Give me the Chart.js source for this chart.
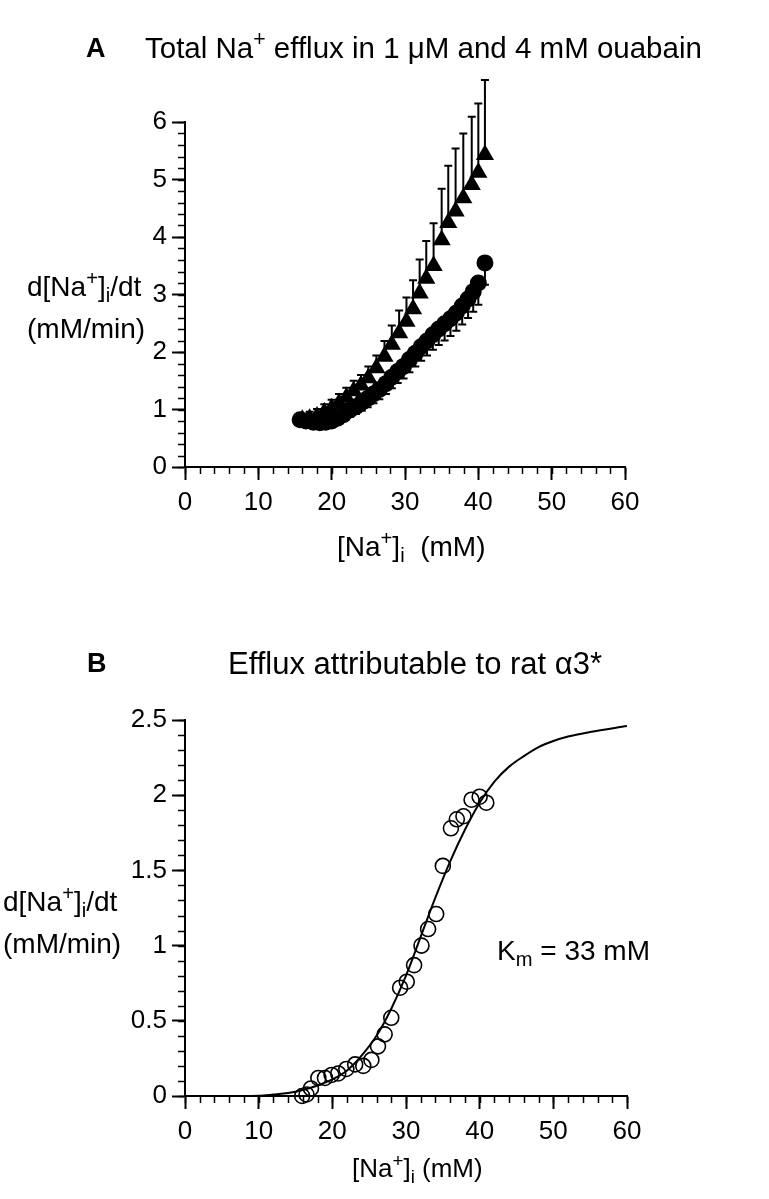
<!DOCTYPE html>
<html>
<head>
<meta charset="utf-8">
<script src="https://cdn.jsdelivr.net/npm/chart.js@4.4.1/dist/chart.umd.min.js"></script>
<style>
  body { margin: 0; background: #fff; width: 769px; height: 1199px; position: relative; overflow: hidden;
         font-family: "Liberation Sans", Arial, sans-serif; color: #000; }
  canvas { position: absolute; left: 0; }
  .t { position: absolute; white-space: pre; line-height: 1; }
  .t sup { font-size: 0.72em; line-height: 0; vertical-align: 0.55em; }
  .t sub { font-size: 0.72em; line-height: 0; vertical-align: -0.3em; }
</style>
</head>
<body>
<canvas id="chartA" width="769" height="580" style="top:0"></canvas>
<canvas id="chartB" width="769" height="619" style="top:580px"></canvas>

<div class="t" style="left:86px;top:35px;font-size:27px;font-weight:bold">A</div>
<div class="t" style="left:145px;top:33px;font-size:29.5px">Total Na<sup>+</sup> efflux in 1 μM and 4 mM ouabain</div>
<div class="t" style="left:27px;top:273px;font-size:28px">d[Na<sup>+</sup>]<sub>i</sub>/dt</div>
<div class="t" style="left:27px;top:315px;font-size:28px">(mM/min)</div>
<div class="t" style="left:337px;top:533px;font-size:28px">[Na<sup>+</sup>]<sub>i</sub>  (mM)</div>

<div class="t" style="left:87px;top:650px;font-size:27px;font-weight:bold">B</div>
<div class="t" style="left:228px;top:648px;font-size:31px">Efflux attributable to rat α3*</div>
<div class="t" style="left:3px;top:888px;font-size:28px">d[Na<sup>+</sup>]<sub>i</sub>/dt</div>
<div class="t" style="left:3px;top:930px;font-size:28px">(mM/min)</div>
<div class="t" style="left:352px;top:1155px;font-size:26px">[Na<sup>+</sup>]<sub>i</sub> (mM)</div>
<div class="t" style="left:497px;top:937px;font-size:28px">K<sub>m</sub> = 33 mM</div>

<script>
// panel A: total efflux, triangles (error bars up) and circles (error bars down)
const triX = [16, 17, 18, 19, 20, 21, 22, 23, 24, 25, 26.1, 27.2, 28.2, 29.2, 30.2, 31.1, 32, 32.9, 33.9, 35, 35.9, 36.9, 37.95, 39.1, 40, 40.9];
const triY = [0.82, 0.84, 0.88, 0.95, 1.02, 1.11, 1.21, 1.32, 1.42, 1.55, 1.72, 1.92, 2.13, 2.33, 2.53, 2.75, 3.02, 3.28, 3.5, 3.95, 4.25, 4.45, 4.68, 4.91, 5.12, 5.43];
const triErr = [0.1, 0.12, 0.13, 0.14, 0.15, 0.16, 0.17, 0.18, 0.18, 0.2, 0.22, 0.27, 0.33, 0.39, 0.42, 0.5, 0.59, 0.65, 0.74, 0.89, 0.99, 1.09, 1.12, 1.18, 1.2, 1.3];

const circX = [15.7, 16.5, 17.5, 18.4, 19.2, 20, 20.8, 21.6, 22.5, 23.3, 24.1, 24.9, 25.7, 26.5, 27.4, 28.2, 29, 29.8, 30.6, 31.4, 32.2, 33, 33.8, 34.6, 35.4, 36.2, 37, 37.8, 38.6, 39.3, 40, 40.9];
const circY = [0.82, 0.8, 0.78, 0.77, 0.78, 0.8, 0.85, 0.91, 0.99, 1.05, 1.12, 1.19, 1.27, 1.35, 1.45, 1.56, 1.66, 1.75, 1.87, 1.98, 2.09, 2.19, 2.3, 2.4, 2.49, 2.58, 2.68, 2.8, 2.92, 3.05, 3.2, 3.55];
const circErr = [0.05, 0.05, 0.06, 0.07, 0.08, 0.09, 0.1, 0.11, 0.12, 0.13, 0.14, 0.15, 0.16, 0.17, 0.18, 0.19, 0.2, 0.21, 0.22, 0.23, 0.24, 0.25, 0.26, 0.28, 0.29, 0.3, 0.31, 0.32, 0.33, 0.35, 0.38, 0.38];

// panel B: efflux attributable to alpha3, with fitted curve
const bX = [15.9, 16.5, 17.1, 18.1, 19, 19.9, 20.8, 21.9, 23.1, 24.2, 25.3, 26.2, 27.1, 28, 29.2, 30.1, 31.1, 32.1, 33, 34.1, 35, 36.1, 36.9, 37.8, 38.9, 40, 40.9];
const bY = [0, 0.01, 0.05, 0.12, 0.12, 0.14, 0.15, 0.18, 0.21, 0.2, 0.24, 0.33, 0.41, 0.52, 0.72, 0.76, 0.87, 1, 1.11, 1.21, 1.53, 1.78, 1.84, 1.86, 1.97, 1.99, 1.95];
const fitX = [0, 5, 10, 12, 14, 16, 18, 20, 22, 24, 26, 28, 30, 32, 34, 36, 38, 40, 42, 44, 46, 48, 50, 52, 55, 60];
const fitY = [0, 0, 0.002, 0.01, 0.02, 0.04, 0.07, 0.11, 0.17, 0.27, 0.4, 0.58, 0.8, 1.06, 1.32, 1.56, 1.77, 1.95, 2.09, 2.19, 2.26, 2.32, 2.36, 2.39, 2.42, 2.46];

// tick labels
const xTicks = [0, 10, 20, 30, 40, 50, 60];
const yTicksA = [0, 1, 2, 3, 4, 5, 6];
const yTicksB = [0, 0.5, 1, 1.5, 2, 2.5];

Chart.defaults.font.family = "'Liberation Sans', Arial, sans-serif";
Chart.defaults.font.size = 26;
Chart.defaults.color = "#000";

const toPts = (xs, ys) => xs.map((x, i) => ({ x, y: ys[i] }));

const minorTicks = {
  id: "minorTicks",
  afterDraw(chart, args, opts) {
    const { ctx } = chart;
    const xs = chart.scales.x;
    const ys = chart.scales.y;
    ctx.save();
    ctx.strokeStyle = "#000";
    ctx.lineWidth = 1.5;
    const nx = Math.round((xs.max - xs.min) / opts.xStep);
    for (let i = 0; i <= nx; i++) {
      const px = Math.round(xs.getPixelForValue(xs.min + i * opts.xStep)) + 0.5;
      ctx.beginPath();
      ctx.moveTo(px, ys.bottom);
      ctx.lineTo(px, ys.bottom + opts.len);
      ctx.stroke();
    }
    const ny = Math.round((ys.max - ys.min) / opts.yStep);
    for (let i = 0; i <= ny; i++) {
      const py = Math.round(ys.getPixelForValue(ys.min + i * opts.yStep)) + 0.5;
      ctx.beginPath();
      ctx.moveTo(xs.left, py);
      ctx.lineTo(xs.left - opts.len, py);
      ctx.stroke();
    }
    ctx.restore();
  }
};

const errorBars = {
  id: "errorBars",
  beforeDatasetsDraw(chart) {
    const { ctx } = chart;
    const xs = chart.scales.x;
    const ys = chart.scales.y;
    ctx.save();
    ctx.strokeStyle = "#000";
    ctx.lineWidth = 2;
    chart.data.datasets.forEach((ds) => {
      if (!ds.errors) return;
      ds.data.forEach((p, i) => {
        const px = xs.getPixelForValue(p.x);
        const y0 = ys.getPixelForValue(p.y);
        const y1 = ys.getPixelForValue(p.y + ds.errDir * ds.errors[i]);
        ctx.beginPath();
        ctx.moveTo(px, y0);
        ctx.lineTo(px, y1);
        ctx.moveTo(px - 4, y1);
        ctx.lineTo(px + 4, y1);
        ctx.stroke();
      });
    });
    ctx.restore();
  }
};

const makeScales = (yTicks, yMax, xHeight) => ({
  x: {
    type: "linear", min: 0, max: 60,
    afterBuildTicks: (s) => { s.ticks = xTicks.map((v) => ({ value: v })); },
    afterFit: (s) => { s.height = xHeight; },
    border: { color: "#000", width: 2 },
    grid: { drawOnChartArea: false, color: "#000", tickColor: "#000", tickLength: 13, tickWidth: 2 },
    ticks: { padding: 7, maxRotation: 0, callback: (v) => String(v) }
  },
  y: {
    type: "linear", min: 0, max: yMax,
    afterBuildTicks: (s) => { s.ticks = yTicks.map((v) => ({ value: v })); },
    afterFit: (s) => { s.width = 185; },
    border: { color: "#000", width: 2 },
    grid: { drawOnChartArea: false, color: "#000", tickColor: "#000", tickLength: 13, tickWidth: 2 },
    ticks: { padding: 5, callback: (v) => String(v) }
  }
});

// panel A: chart area 185..625 x 122..467 (canvas coords)
new Chart(document.getElementById("chartA"), {
  type: "scatter",
  data: {
    datasets: [
      { data: toPts(circX, circY), errors: circErr, errDir: -1, pointStyle: "circle", pointRadius: 8.5,
        backgroundColor: "#000", borderColor: "#000", borderWidth: 0, clip: false },
      { data: toPts(triX, triY), errors: triErr, errDir: 1, pointStyle: "triangle", pointRadius: 10.5,
        backgroundColor: "#000", borderColor: "#000", borderWidth: 0, clip: false }
    ]
  },
  options: {
    responsive: false, animation: false,
    layout: { padding: { left: 0, top: 122, right: 144, bottom: 0 } },
    plugins: { legend: { display: false }, tooltip: { enabled: false }, minorTicks: { xStep: 2, yStep: 0.2, len: 7 } },
    scales: makeScales(yTicksA, 6, 580 - 467)
  },
  plugins: [errorBars, minorTicks]
});

// panel B: chart area 185..627 x 140..516 (canvas coords)
new Chart(document.getElementById("chartB"), {
  type: "scatter",
  data: {
    datasets: [
      { data: toPts(fitX, fitY), showLine: true, pointRadius: 0, borderColor: "#000", borderWidth: 2,
        cubicInterpolationMode: "monotone", clip: false },
      { data: toPts(bX, bY), pointStyle: "circle", pointRadius: 7.5, backgroundColor: "rgba(0,0,0,0)",
        borderColor: "#000", borderWidth: 1.6, clip: false }
    ]
  },
  options: {
    responsive: false, animation: false,
    layout: { padding: { left: 0, top: 140, right: 142, bottom: 0 } },
    plugins: { legend: { display: false }, tooltip: { enabled: false }, minorTicks: { xStep: 2, yStep: 0.1, len: 7 } },
    scales: makeScales(yTicksB, 2.5, 619 - 516)
  },
  plugins: [minorTicks]
});
</script>
</body>
</html>
